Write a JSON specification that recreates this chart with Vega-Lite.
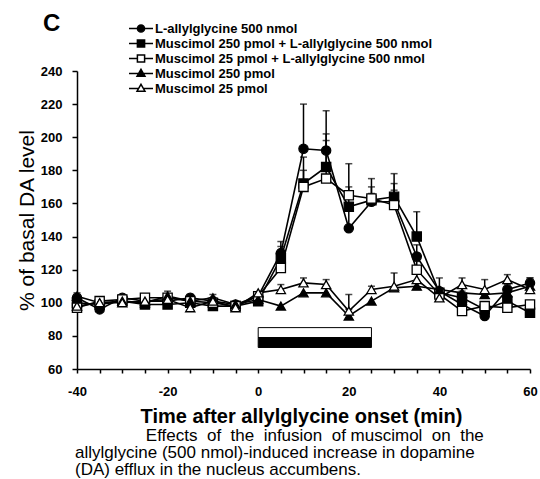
{
  "$schema": "https://vega.github.io/schema/vega-lite/v6.json",
  "autosize": {"type": "none"},
  "padding": {"left": 77, "top": 71, "right": 10, "bottom": 110},
  "width": 453,
  "height": 298,
  "background": "white",
  "view": {"stroke": null},
  "title": {
    "text": ["\u200b\u00a0\u00a0\u00a0\u00a0\u00a0\u00a0\u00a0\u00a0\u00a0\u00a0\u00a0\u00a0\u00a0\u00a0\u00a0Effects\u00a0\u00a0of\u00a0\u00a0the\u00a0\u00a0infusion\u00a0\u00a0of\u00a0muscimol\u00a0\u00a0on\u00a0\u00a0the", "allylglycine (500 nmol)-induced increase in dopamine", "(DA) efflux in the nucleus accumbens."],
    "orient": "bottom",
    "anchor": "start",
    "frame": "group",
    "dx": -2,
    "offset": 2,
    "font": "Liberation Sans",
    "fontSize": 17,
    "fontWeight": "normal",
    "color": "black",
    "lineHeight": 17,
    "baseline": "top"
  },
  "datasets": {
    "obs": [
      {"t": -40, "g": "A", "v": 103, "u": 106}, {"t": -35, "g": "A", "v": 96}, {"t": -30, "g": "A", "v": 103}, {"t": -25, "g": "A", "v": 101}, {"t": -20, "g": "A", "v": 101}, {"t": -15, "g": "A", "v": 103, "u": 105}, {"t": -10, "g": "A", "v": 101}, {"t": -5, "g": "A", "v": 99}, {"t": 0, "g": "A", "v": 104}, {"t": 5, "g": "A", "v": 130, "u": 137}, {"t": 10, "g": "A", "v": 193, "u": 220}, {"t": 15, "g": "A", "v": 192, "u": 216}, {"t": 20, "g": "A", "v": 145, "u": 160}, {"t": 25, "g": "A", "v": 161, "u": 170}, {"t": 30, "g": "A", "v": 161, "u": 172}, {"t": 35, "g": "A", "v": 128, "u": 135}, {"t": 40, "g": "A", "v": 107}, {"t": 45, "g": "A", "v": 99}, {"t": 50, "g": "A", "v": 92}, {"t": 55, "g": "A", "v": 108, "u": 111}, {"t": 60, "g": "A", "v": 112, "u": 115},
      {"t": -40, "g": "B", "v": 100}, {"t": -35, "g": "B", "v": 99}, {"t": -30, "g": "B", "v": 101}, {"t": -25, "g": "B", "v": 99}, {"t": -20, "g": "B", "v": 99}, {"t": -15, "g": "B", "v": 100}, {"t": -10, "g": "B", "v": 98}, {"t": -5, "g": "B", "v": 98}, {"t": 0, "g": "B", "v": 101}, {"t": 5, "g": "B", "v": 127, "u": 134}, {"t": 10, "g": "B", "v": 172, "u": 180}, {"t": 15, "g": "B", "v": 182, "u": 202}, {"t": 20, "g": "B", "v": 158, "u": 170}, {"t": 25, "g": "B", "v": 162, "u": 175}, {"t": 30, "g": "B", "v": 164, "u": 178}, {"t": 35, "g": "B", "v": 140, "u": 155}, {"t": 40, "g": "B", "v": 106}, {"t": 45, "g": "B", "v": 103, "u": 107}, {"t": 50, "g": "B", "v": 96}, {"t": 55, "g": "B", "v": 101}, {"t": 60, "g": "B", "v": 94, "u": 98},
      {"t": -40, "g": "C", "v": 97}, {"t": -35, "g": "C", "v": 101}, {"t": -30, "g": "C", "v": 102}, {"t": -25, "g": "C", "v": 103}, {"t": -20, "g": "C", "v": 103}, {"t": -15, "g": "C", "v": 101}, {"t": -10, "g": "C", "v": 100}, {"t": -5, "g": "C", "v": 98}, {"t": 0, "g": "C", "v": 104}, {"t": 5, "g": "C", "v": 121}, {"t": 10, "g": "C", "v": 170, "u": 188}, {"t": 15, "g": "C", "v": 175, "u": 198}, {"t": 20, "g": "C", "v": 165, "u": 184}, {"t": 25, "g": "C", "v": 163, "u": 166}, {"t": 30, "g": "C", "v": 159, "u": 168}, {"t": 35, "g": "C", "v": 120, "u": 125}, {"t": 40, "g": "C", "v": 105}, {"t": 45, "g": "C", "v": 95}, {"t": 50, "g": "C", "v": 98}, {"t": 55, "g": "C", "v": 97}, {"t": 60, "g": "C", "v": 99},
      {"t": -40, "g": "D", "v": 104}, {"t": -35, "g": "D", "v": 100}, {"t": -30, "g": "D", "v": 101}, {"t": -25, "g": "D", "v": 100}, {"t": -20, "g": "D", "v": 104, "u": 107}, {"t": -15, "g": "D", "v": 101}, {"t": -10, "g": "D", "v": 103, "u": 105}, {"t": -5, "g": "D", "v": 99}, {"t": 0, "g": "D", "v": 102}, {"t": 5, "g": "D", "v": 98}, {"t": 10, "g": "D", "v": 106}, {"t": 15, "g": "D", "v": 106}, {"t": 20, "g": "D", "v": 92, "u": 96}, {"t": 25, "g": "D", "v": 101}, {"t": 30, "g": "D", "v": 109}, {"t": 35, "g": "D", "v": 110}, {"t": 40, "g": "D", "v": 108}, {"t": 45, "g": "D", "v": 106}, {"t": 50, "g": "D", "v": 105}, {"t": 55, "g": "D", "v": 106}, {"t": 60, "g": "D", "v": 110},
      {"t": -40, "g": "E", "v": 98}, {"t": -35, "g": "E", "v": 100}, {"t": -30, "g": "E", "v": 100}, {"t": -25, "g": "E", "v": 101}, {"t": -20, "g": "E", "v": 102}, {"t": -15, "g": "E", "v": 97}, {"t": -10, "g": "E", "v": 101}, {"t": -5, "g": "E", "v": 97}, {"t": 0, "g": "E", "v": 106}, {"t": 5, "g": "E", "v": 108, "u": 111}, {"t": 10, "g": "E", "v": 112, "u": 115}, {"t": 15, "g": "E", "v": 111, "u": 114}, {"t": 20, "g": "E", "v": 95, "u": 105}, {"t": 25, "g": "E", "v": 108, "u": 110}, {"t": 30, "g": "E", "v": 110, "u": 118}, {"t": 35, "g": "E", "v": 114, "u": 118}, {"t": 40, "g": "E", "v": 103, "u": 115}, {"t": 45, "g": "E", "v": 111, "u": 115}, {"t": 50, "g": "E", "v": 108, "u": 114}, {"t": 55, "g": "E", "v": 114, "u": 117}, {"t": 60, "g": "E", "v": 108, "u": 115}
    ],
    "names": [
      {"name": "L-allylglycine 500 nmol"},
      {"name": "Muscimol 250 pmol + L-allylglycine 500 nmol"},
      {"name": "Muscimol 25 pmol + L-allylglycine 500 nmol"},
      {"name": "Muscimol 250 pmol"},
      {"name": "Muscimol 25 pmol"}
    ],
    "bars": [
      {"bar": "upper", "x0": 0, "x1": 25, "y0": 79, "y1": 85},
      {"bar": "lower", "x0": 0, "x1": 25, "y0": 73, "y1": 79}
    ]
  },
  "resolve": {"scale": {"shape": "independent", "fill": "independent"}, "legend": {"shape": "independent", "fill": "independent"}},
  "encoding": {
    "x": {
      "field": "t", "type": "quantitative",
      "scale": {"domain": [-40, 60], "nice": false, "zero": false},
      "axis": {
        "values": [-40, -35, -30, -25, -20, -15, -10, -5, 0, 5, 10, 15, 20, 25, 30, 35, 40, 45, 50, 55, 60],
        "labelExpr": "datum.value % 20 == 0 ? '' + datum.value : ''",
        "grid": false, "domainColor": "black", "domainWidth": 1.5, "tickColor": "black", "tickWidth": 1.5, "tickSize": 4,
        "labelFont": "Liberation Sans", "labelFontSize": 13, "labelFontWeight": "bold", "labelColor": "black", "labelPadding": 12,
        "labelFlush": false, "labelOverlap": false,
        "title": "Time after allylglycine onset (min)", "titleFont": "Liberation Sans", "titleFontSize": 20, "titleFontWeight": "bold", "titleColor": "black",
        "titleX": 224, "titleY": 53, "titleBaseline": "alphabetic", "titleAlign": "center"
      }
    },
    "y": {
      "field": "v", "type": "quantitative",
      "scale": {"domain": [60, 240], "nice": false, "zero": false},
      "axis": {
        "values": [60, 80, 100, 120, 140, 160, 180, 200, 220, 240],
        "grid": false, "domainColor": "black", "domainWidth": 1.5, "tickColor": "black", "tickWidth": 1.5, "tickSize": 5,
        "labelFont": "Liberation Sans", "labelFontSize": 13, "labelFontWeight": "bold", "labelColor": "black", "labelPadding": 10,
        "labelFlush": false, "labelOverlap": false,
        "title": "% of basal DA level", "titleFont": "Liberation Sans", "titleFontSize": 21, "titleFontWeight": "normal", "titleColor": "black",
        "titleX": -44, "titleY": 149, "titleAngle": -90, "titleBaseline": "alphabetic", "titleAlign": "center"
      }
    }
  },
  "layer": [
    {
      "data": {"name": "bars"},
      "transform": [{"filter": "datum.bar == 'upper'"}],
      "mark": {"type": "rect", "fill": "white", "stroke": "black", "strokeWidth": 1},
      "encoding": {"x": {"field": "x0", "type": "quantitative"}, "x2": {"field": "x1"}, "y": {"field": "y0", "type": "quantitative"}, "y2": {"field": "y1"}}
    },
    {
      "data": {"name": "bars"},
      "transform": [{"filter": "datum.bar == 'lower'"}],
      "mark": {"type": "rect", "fill": "black", "stroke": "black", "strokeWidth": 1},
      "encoding": {"x": {"field": "x0", "type": "quantitative"}, "x2": {"field": "x1"}, "y": {"field": "y0", "type": "quantitative"}, "y2": {"field": "y1"}}
    },
    {
      "data": {"name": "obs"},
      "transform": [{"filter": "isValid(datum.u)"}],
      "mark": {"type": "rule", "color": "black", "strokeWidth": 1.5},
      "encoding": {"y2": {"field": "u"}}
    },
    {
      "data": {"name": "obs"},
      "transform": [{"filter": "isValid(datum.u)"}],
      "mark": {"type": "tick", "orient": "horizontal", "color": "black", "size": 7, "thickness": 1.5},
      "encoding": {"y": {"field": "u", "type": "quantitative"}}
    },
    {
      "data": {"name": "obs"},
      "mark": {"type": "line", "color": "black", "strokeWidth": 1.6},
      "encoding": {"detail": {"field": "g"}}
    },
    {
      "data": {"name": "obs"},
      "mark": {"type": "point", "filled": true, "stroke": "black", "strokeWidth": 1.3, "size": 85, "opacity": 1},
      "encoding": {
        "shape": {"field": "g", "type": "nominal", "scale": {"domain": ["A", "B", "C", "D", "E"], "range": ["circle", "square", "square", "triangle-up", "triangle-up"]}, "legend": null},
        "fill": {"field": "g", "type": "nominal", "scale": {"domain": ["A", "B", "C", "D", "E"], "range": ["black", "black", "white", "black", "white"]}, "legend": null}
      }
    },
    {
      "data": {"name": "names"},
      "mark": {"type": "point", "filled": true, "opacity": 0, "stroke": "black"},
      "encoding": {
        "x": {"datum": 0, "type": "quantitative"},
        "y": {"datum": 150, "type": "quantitative"},
        "shape": {
          "field": "name", "type": "nominal",
          "scale": {
            "domain": ["L-allylglycine 500 nmol", "Muscimol 250 pmol + L-allylglycine 500 nmol", "Muscimol 25 pmol + L-allylglycine 500 nmol", "Muscimol 250 pmol", "Muscimol 25 pmol"],
            "range": [
              "M-1,0H1M-0.3,0A0.3,0.3,0,1,0,0.3,0A0.3,0.3,0,1,0,-0.3,0Z",
              "M-1,0H1M-0.3,-0.3H0.3V0.3H-0.3Z",
              "M-1,0H-0.3M0.3,0H1M-0.3,-0.3H0.3V0.3H-0.3Z",
              "M-1,0H1M0,-0.35L0.33,0.22H-0.33Z",
              "M-1,0H-0.2M0.2,0H1M0,-0.35L0.33,0.22H-0.33Z"
            ]
          },
          "legend": {
            "orient": "none", "legendX": -34, "legendY": -50,
            "title": "C", "titleOrient": "left", "titleAnchor": "start", "titleFont": "Liberation Sans", "titleFontSize": 24, "titleFontWeight": "bold", "titleColor": "black", "titlePadding": 67, "titleBaseline": "middle",
            "labelFont": "Liberation Sans", "labelFontSize": 13, "labelFontWeight": "bold", "labelColor": "black", "labelLimit": 600, "labelOffset": 1,
            "symbolSize": 576, "symbolStrokeWidth": 1.5, "symbolStrokeColor": "black", "symbolOpacity": 1,
            "clipHeight": 15, "rowPadding": 0, "padding": 0,
            "encode": {"symbols": {"update": {"stroke": {"value": "black"}, "strokeWidth": {"value": 1.5}, "opacity": {"value": 1}, "strokeOpacity": {"value": 1}}}, "title": {"update": {"dy": {"value": 3}}}}
          }
        },
        "fill": {
          "field": "name", "type": "nominal",
          "scale": {
            "domain": ["L-allylglycine 500 nmol", "Muscimol 250 pmol + L-allylglycine 500 nmol", "Muscimol 25 pmol + L-allylglycine 500 nmol", "Muscimol 250 pmol", "Muscimol 25 pmol"],
            "range": ["black", "black", "white", "black", "white"]
          },
          "legend": {
            "orient": "none", "legendX": -34, "legendY": -50,
            "title": "C", "titleOrient": "left", "titleAnchor": "start", "titleFont": "Liberation Sans", "titleFontSize": 24, "titleFontWeight": "bold", "titleColor": "black", "titlePadding": 67, "titleBaseline": "middle",
            "labelFont": "Liberation Sans", "labelFontSize": 13, "labelFontWeight": "bold", "labelColor": "black", "labelLimit": 600, "labelOffset": 1,
            "symbolSize": 576, "symbolStrokeWidth": 1.5, "symbolStrokeColor": "black", "symbolOpacity": 1,
            "clipHeight": 15, "rowPadding": 0, "padding": 0,
            "encode": {"symbols": {"update": {"stroke": {"value": "black"}, "strokeWidth": {"value": 1.5}, "opacity": {"value": 1}, "strokeOpacity": {"value": 1}}}, "title": {"update": {"dy": {"value": 3}}}}
          }
        }
      }
    }
  ]
}
